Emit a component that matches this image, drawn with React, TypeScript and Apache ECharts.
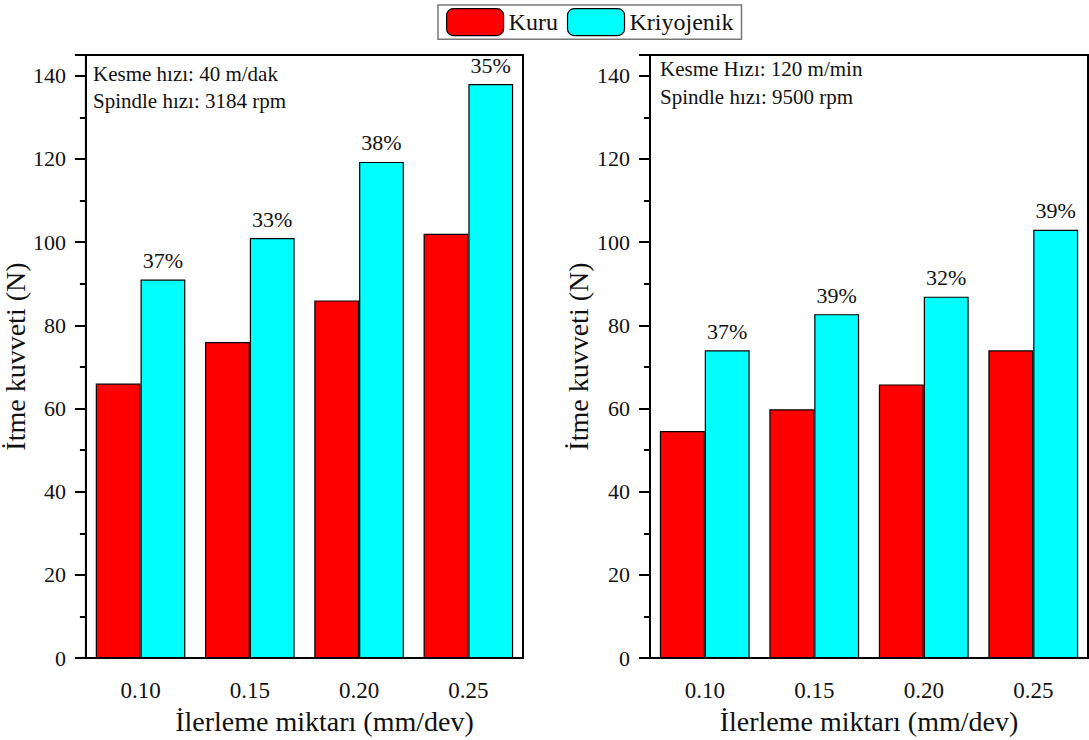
import React, { useEffect, useRef } from "react";
import * as echarts from "echarts";

const categories = ["0.10", "0.15", "0.20", "0.25"];
const kuruLeft = [66, 76, 86, 102];
const kriyoLeft = [91, 101, 119.3, 138];
const pctLeft = ["37%", "33%", "38%", "35%"];
const kuruRight = [54.6, 59.8, 65.8, 74];
const kriyoRight = [74, 82.7, 86.9, 103];
const pctRight = ["37%", "39%", "32%", "39%"];
const yTicks = { min: 0, max: 145, interval: 20 };

const FONT = "'Liberation Serif', 'Times New Roman', serif";
const RED = "#ff0000";
const CYAN = "#00ffff";

export default function App() {
  const ref = useRef<HTMLDivElement>(null);
  useEffect(() => {
    const chart = echarts.init(ref.current!, null, { renderer: "svg" });
    const grids = [
      { left: 83, top: 55, width: 440, height: 604 },
      { left: 650, top: 55, width: 438, height: 604 },
    ];
    const xAxis = grids.map((_, i) => ({
      type: "category",
      gridIndex: i,
      data: categories,
      name: "İlerleme miktarı (mm/dev)",
      nameLocation: "middle",
      nameGap: 44,
      nameTextStyle: {
        fontFamily: FONT,
        fontSize: 28,
        color: "#111",
        padding: i === 0 ? [0, 0, 0, 40] : [0, 0, 0, 0],
      },
      axisLine: { lineStyle: { color: "#000", width: 2 } },
      axisTick: { alignWithLabel: true, length: 11, lineStyle: { width: 2, color: "#000" } },
      axisLabel: { fontFamily: FONT, fontSize: 23, color: "#111", margin: 21 },
    }));
    const yAxis = grids.map((_, i) => ({
      type: "value",
      gridIndex: i,
      min: yTicks.min,
      max: yTicks.max,
      interval: yTicks.interval,
      name: "İtme kuvveti (N)",
      nameLocation: "middle",
      nameGap: i === 0 ? 44 : 58,
      nameTextStyle: { fontFamily: FONT, fontSize: 28, color: "#111" },
      axisLine: { show: true, lineStyle: { color: "#000", width: 2 } },
      axisTick: { show: true, length: 11, lineStyle: { width: 2, color: "#000" } },
      minorTick: { show: true, splitNumber: 2, length: 6, lineStyle: { width: 2, color: "#000" } },
      splitLine: { show: false },
      axisLabel: {
        fontFamily: FONT,
        fontSize: 22,
        color: "#111",
        margin: 20,
        formatter: (v: number) => (v > 140 ? "" : String(v)),
      },
    }));
    const barStyle = (c: string) => ({ color: c, borderColor: "#000", borderWidth: 1.2 });
    const pctLabel = (arr: string[]) => ({
      show: true,
      position: "top",
      distance: 8,
      fontFamily: FONT,
      fontSize: 22,
      color: "#111",
      formatter: (p: any) => arr[p.dataIndex],
    });
    const common = { type: "bar", barGap: "0%", barCategoryGap: "18%" };
    const series = [
      { ...common, name: "Kuru", xAxisIndex: 0, yAxisIndex: 0, data: kuruLeft, itemStyle: barStyle(RED) },
      { ...common, name: "Kriyojenik", xAxisIndex: 0, yAxisIndex: 0, data: kriyoLeft, itemStyle: barStyle(CYAN), label: pctLabel(pctLeft) },
      { ...common, name: "Kuru", xAxisIndex: 1, yAxisIndex: 1, data: kuruRight, itemStyle: barStyle(RED) },
      { ...common, name: "Kriyojenik", xAxisIndex: 1, yAxisIndex: 1, data: kriyoRight, itemStyle: barStyle(CYAN), label: pctLabel(pctRight) },
    ];
    const annot = (x: number, y: number, text: string) => ({
      type: "text",
      left: x,
      top: y,
      style: { text, fontFamily: FONT, fontSize: 21, fill: "#111" },
    });
    chart.setOption({
      animation: false,
      backgroundColor: "#fff",
      grid: grids.map((g) => ({ ...g, show: true, borderColor: "#000", borderWidth: 2, containLabel: false })),
      legend: {
        left: 438,
        top: 5,
        data: ["Kuru", "Kriyojenik"],
        itemWidth: 57,
        itemHeight: 27,
        itemGap: 9,
        padding: [3, 8, 3, 8],
        borderColor: "#777",
        borderWidth: 1.5,
        textStyle: { fontFamily: FONT, fontSize: 24, color: "#111" },
        itemStyle: { borderColor: "#000", borderWidth: 1.2 },
      },
      xAxis,
      yAxis,
      series,
      graphic: [
        annot(93, 63, "Kesme hızı: 40 m/dak"),
        annot(93, 90, "Spindle hızı: 3184 rpm"),
        annot(660, 58, "Kesme Hızı: 120 m/min"),
        annot(660, 86, "Spindle hızı: 9500 rpm"),
      ],
    });
    return () => chart.dispose();
  }, []);
  return <div ref={ref} style={{ position: "absolute", left: 0, top: 0, width: 1089, height: 740 }} />;
}
